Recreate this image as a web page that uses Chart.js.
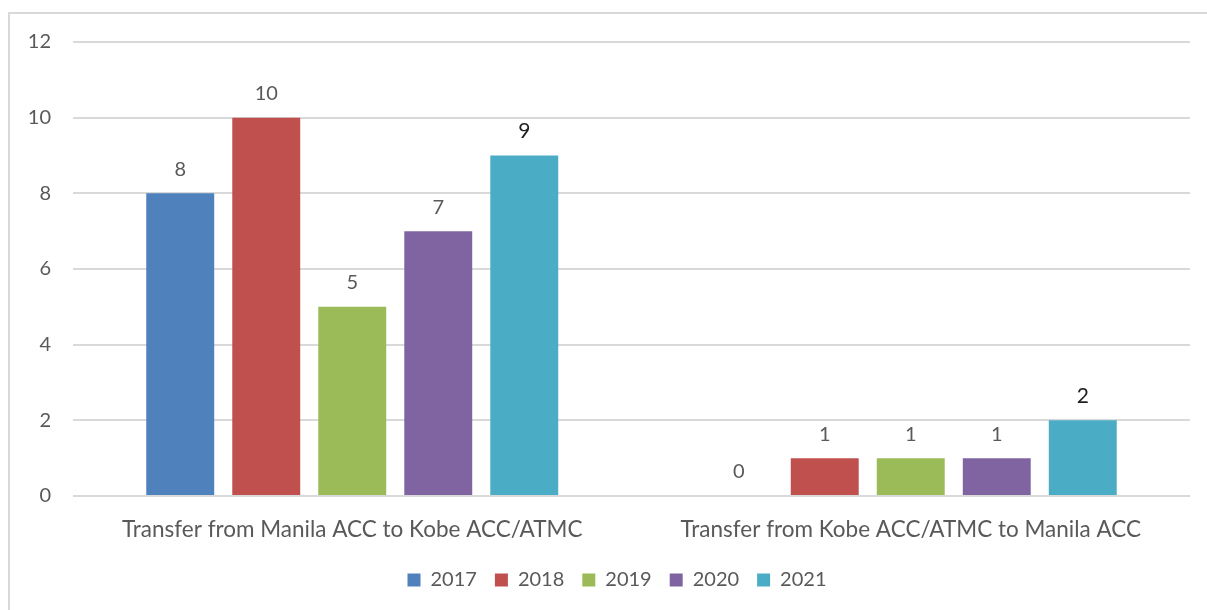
<!DOCTYPE html>
<html>
<head>
<meta charset="utf-8">
<script src="https://cdn.jsdelivr.net/npm/chart.js@4"></script>
<style>
  html, body { margin: 0; padding: 0; background: #fff; }
  #wrap { position: relative; width: 1207px; height: 610px; }
  #frame { position: absolute; left: 8px; top: 12px; right: 0; bottom: 0;
           border-top: 2px solid #d9d9d9; border-left: 2px solid #d9d9d9; pointer-events: none; }
  canvas { position: absolute; left: 0; top: 0; }
</style>
</head>
<body>
<div id="wrap">
  <canvas id="c" width="1207" height="610"></canvas>
  <div id="frame"></div>
</div>
<script>
const categories = ["Transfer from Manila ACC to Kobe ACC/ATMC", "Transfer from Kobe ACC/ATMC to Manila ACC"];
const years = ["2017", "2018", "2019", "2020", "2021"];
const v2017 = [8, 0];
const v2018 = [10, 1];
const v2019 = [5, 1];
const v2020 = [7, 1];
const v2021 = [9, 2];
const yTicks = [0, 2, 4, 6, 8, 10, 12];
const colors = ["#4F81BD", "#C0504D", "#9BBB59", "#8064A2", "#4BACC6"];
const seriesValues = [v2017, v2018, v2019, v2020, v2021];

const FONT = "Lato, 'Open Sans', sans-serif";

const labelPlugin = {
  id: 'barLabels',
  afterDatasetsDraw(chart) {
    const ctx = chart.ctx;
    ctx.save();
    ctx.textAlign = 'center';
    ctx.textBaseline = 'bottom';
    chart.data.datasets.forEach((ds, i) => {
      const meta = chart.getDatasetMeta(i);
      const last = i === chart.data.datasets.length - 1;
      ctx.fillStyle = last ? '#1f1f1f' : '#595959';
      ctx.font = (last ? '21px ' : '20px ') + FONT;
      meta.data.forEach((el, j) => {
        ctx.fillText(String(ds.data[j]), el.x, el.y - 14);
      });
    });
    ctx.restore();
  }
};

const legendShift = {
  id: 'legendShift',
  afterLayout(chart) {
    if (chart.legend) { chart.legend.left += 22; chart.legend.right += 22; }
  }
};

new Chart(document.getElementById('c'), {
  type: 'bar',
  data: {
    labels: categories,
    datasets: years.map((y, i) => ({
      label: y,
      data: seriesValues[i],
      backgroundColor: colors[i],
      borderWidth: 0,
      categoryPercentage: 0.77,
      barPercentage: 0.79
    }))
  },
  options: {
    responsive: false,
    animation: false,
    layout: { padding: { top: 42, right: 17, left: 0, bottom: 10 } },
    plugins: {
      legend: {
        position: 'bottom',
        labels: {
          boxWidth: 13, boxHeight: 13, padding: 18,
          color: '#595959',
          font: { family: FONT, size: 20 }
        }
      },
      tooltip: { enabled: false }
    },
    scales: {
      x: {
        afterFit(scale) { scale.height -= 11; },
        grid: { display: false, drawTicks: false },
        border: { display: false },
        ticks: { color: '#595959', padding: 20, font: { family: FONT, size: 22.5 } }
      },
      y: {
        min: 0, max: 12,
        afterFit(scale) { scale.width = 73; },
        afterBuildTicks(scale) { scale.ticks = yTicks.map(v => ({ value: v })); },
        grid: { color: '#d9d9d9', lineWidth: 2, drawTicks: false },
        border: { display: false },
        ticks: { color: '#595959', padding: 22, font: { family: FONT, size: 20 } }
      }
    }
  },
  plugins: [labelPlugin, legendShift]
});
</script>
</body>
</html>
